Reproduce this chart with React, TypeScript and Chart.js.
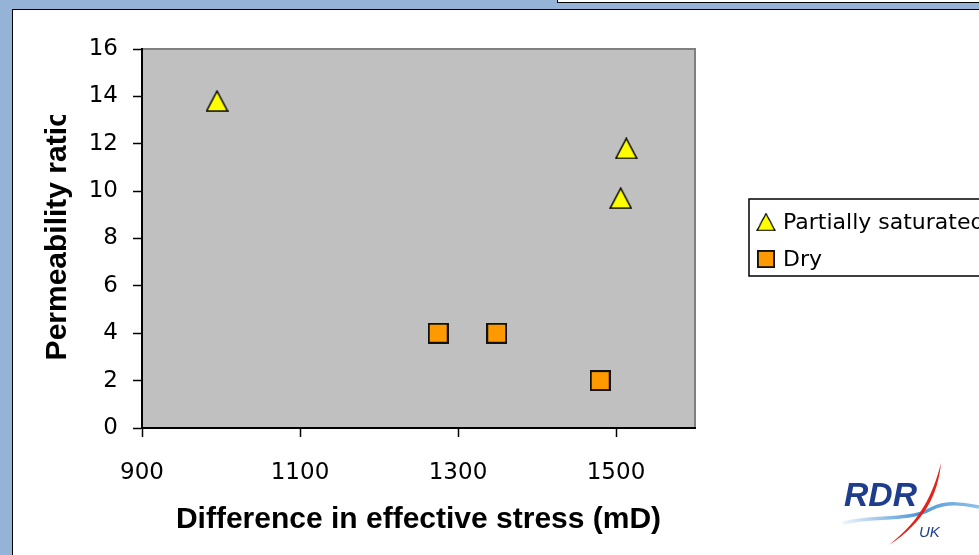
import React, { useEffect, useRef } from 'react';
import { Chart, registerables } from 'chart.js';

Chart.register(...registerables);

// Series and axis data
const seriesNames = ['Partially saturated', 'Dry'];
const saturatedStress = [995, 1513, 1506];
const saturatedRatio = [13.8, 11.8, 9.7];
const dryStress = [1275, 1349, 1480];
const dryRatio = [4.0, 4.0, 2.0];
const stressTicks = [900, 1100, 1300, 1500];
const ratioTicks = [0, 2, 4, 6, 8, 10, 12, 14, 16];
const xAxisTitle = 'Difference in effective stress (mD)';
const yAxisTitle = 'Permeability ratio';

const TICK_FONT = { family: '"DejaVu Sans", sans-serif', size: 23 };
const TITLE_FONT = 'bold 30px "Liberation Sans", Arial, sans-serif';

function makeTriangle(): HTMLCanvasElement {
  const c = document.createElement('canvas');
  c.width = 23;
  c.height = 22;
  const g = c.getContext('2d')!;
  g.beginPath();
  g.moveTo(11.5, 1);
  g.lineTo(22, 21);
  g.lineTo(1, 21);
  g.closePath();
  g.fillStyle = '#FFFF00';
  g.fill();
  g.lineWidth = 1.5;
  g.strokeStyle = '#000';
  g.stroke();
  return c;
}

function makeSquare(): HTMLCanvasElement {
  const c = document.createElement('canvas');
  c.width = 21;
  c.height = 21;
  const g = c.getContext('2d')!;
  g.fillStyle = '#FF9900';
  g.fillRect(1, 1, 19, 19);
  g.lineWidth = 2;
  g.strokeStyle = '#111';
  g.strokeRect(1, 1, 19, 19);
  return c;
}

// Grey plot area with a darker frame on its top and right edges
const plotBackground = {
  id: 'plotBackground',
  beforeDraw(chart: any) {
    const { ctx, chartArea: a } = chart;
    ctx.save();
    ctx.fillStyle = '#C0C0C0';
    ctx.fillRect(a.left, a.top, a.right - a.left, a.bottom - a.top);
    ctx.strokeStyle = '#808080';
    ctx.lineWidth = 2;
    ctx.beginPath();
    ctx.moveTo(a.left, a.top);
    ctx.lineTo(a.right, a.top);
    ctx.lineTo(a.right, a.bottom);
    ctx.stroke();
    ctx.restore();
  },
};

// Vertical axis title, cut off at its upper end
const clippedYTitle = {
  id: 'clippedYTitle',
  afterDraw(chart: any) {
    const { ctx, chartArea: a } = chart;
    const cy = (a.top + a.bottom) / 2 - 4;
    ctx.save();
    ctx.beginPath();
    ctx.rect(0, a.top + 66, a.left, chart.height);
    ctx.clip();
    ctx.translate(66, cy);
    ctx.rotate(-Math.PI / 2);
    ctx.font = TITLE_FONT;
    ctx.fillStyle = '#000';
    ctx.textAlign = 'center';
    ctx.textBaseline = 'alphabetic';
    ctx.fillText(yAxisTitle, 0, 0);
    ctx.restore();
  },
};

// Framed legend to the right of the plot
const boxedLegend = {
  id: 'boxedLegend',
  afterDraw(chart: any) {
    const { ctx, chartArea: a } = chart;
    const left = a.right + 54;
    const top = a.top + 150;
    const rowH = 37;
    const n = chart.data.datasets.length;
    const height = rowH * n + 3;
    ctx.save();
    ctx.fillStyle = '#fff';
    ctx.fillRect(left, top, 400, height);
    ctx.strokeStyle = '#000';
    ctx.lineWidth = 1.5;
    ctx.strokeRect(left, top, 400, height);
    chart.data.datasets.forEach((ds: any, i: number) => {
      const cy = top + 23 + i * rowH;
      const img = ds.pointStyle as HTMLCanvasElement;
      const s = 0.85;
      ctx.drawImage(img, left + 17 - (img.width * s) / 2, cy - (img.height * s) / 2, img.width * s, img.height * s);
      ctx.fillStyle = '#000';
      ctx.font = '22px "DejaVu Sans", sans-serif';
      ctx.textAlign = 'left';
      ctx.textBaseline = 'middle';
      ctx.fillText(ds.label, left + 34, cy + 1);
    });
    ctx.restore();
  },
};

function toPoints(xs: number[], ys: number[]) {
  return xs.map((x, i) => ({ x, y: ys[i] }));
}

function PermeabilityChart() {
  const ref = useRef<HTMLCanvasElement | null>(null);

  useEffect(() => {
    const canvas = ref.current;
    if (!canvas) return;
    const triangle = makeTriangle();
    const square = makeSquare();

    const chart = new Chart(canvas, {
      type: 'scatter',
      data: {
        datasets: [
          {
            label: seriesNames[0],
            data: toPoints(saturatedStress, saturatedRatio),
            pointStyle: triangle as any,
            pointRadius: 11,
          },
          {
            label: seriesNames[1],
            data: toPoints(dryStress, dryRatio),
            pointStyle: square as any,
            pointRadius: 10,
          },
        ],
      },
      options: {
        animation: false,
        responsive: false,
        maintainAspectRatio: false,
        events: [],
        layout: { padding: { left: 0, top: 49, right: 284, bottom: 0 } },
        plugins: {
          legend: { display: false },
          tooltip: { enabled: false },
        },
        scales: {
          x: {
            type: 'linear',
            position: 'bottom',
            min: 900,
            max: 1600,
            afterBuildTicks: (s: any) => {
              s.ticks = stressTicks.map((v) => ({ value: v }));
            },
            afterFit: (s: any) => {
              s.height = 127;
            },
            grid: {
              drawOnChartArea: false,
              drawTicks: true,
              tickLength: 9,
              tickColor: '#000',
              tickWidth: 1.5,
            },
            border: { color: '#000', width: 2 },
            ticks: {
              color: '#000',
              font: TICK_FONT,
              padding: 22,
              maxRotation: 0,
              autoSkip: false,
              callback: (v: any) => String(v),
            },
            title: {
              display: true,
              text: xAxisTitle,
              color: '#000',
              font: { family: '"Liberation Sans", Arial, sans-serif', size: 30, weight: 'bold' },
              padding: { top: 0, bottom: 17 },
            },
          },
          y: {
            type: 'linear',
            min: 0,
            max: 16,
            afterBuildTicks: (s: any) => {
              s.ticks = ratioTicks.map((v) => ({ value: v }));
            },
            afterFit: (s: any) => {
              s.width = 142;
            },
            grid: {
              drawOnChartArea: false,
              drawTicks: true,
              tickLength: 9,
              tickColor: '#000',
              tickWidth: 1.5,
            },
            border: { color: '#000', width: 2 },
            ticks: {
              color: '#000',
              font: TICK_FONT,
              padding: 15,
              autoSkip: false,
              callback: (v: any) => String(v),
            },
          },
        },
      },
      plugins: [plotBackground, clippedYTitle, boxedLegend],
    });

    return () => chart.destroy();
  }, []);

  return (
    <canvas
      ref={ref}
      width={979}
      height={555}
      style={{ position: 'absolute', left: 0, top: 0 }}
    />
  );
}

function Logo() {
  return (
    <svg
      style={{ position: 'absolute', left: 835, top: 460 }}
      width={144}
      height={90}
      viewBox="0 0 144 90"
    >
      <defs>
        <linearGradient id="rdrWave" x1="0" x2="1" y1="0" y2="0">
          <stop offset="0" stopColor="#eef5fb" />
          <stop offset="0.55" stopColor="#4f97d8" />
          <stop offset="1" stopColor="#8fc1ea" />
        </linearGradient>
      </defs>
      <path
        d="M8 63 C 38 55, 72 62, 96 49 C 112 41, 128 44, 144 47"
        stroke="url(#rdrWave)"
        strokeWidth={3.5}
        fill="none"
      />
      <text
        x={9}
        y={46}
        fontFamily='"Liberation Sans", Arial, sans-serif'
        fontWeight="bold"
        fontStyle="italic"
        fontSize={34}
        fill="#1E3D8C"
        textLength={73}
        lengthAdjust="spacingAndGlyphs"
      >
        RDR
      </text>
      <path d="M106 3 C 103 34, 90 62, 54 85 C 86 60, 98 34, 106 3 Z" fill="#E2231A" />
      <text
        x={84}
        y={77}
        fontFamily='"Liberation Sans", Arial, sans-serif'
        fontStyle="italic"
        fontSize={15}
        fill="#1E3D8C"
      >
        UK
      </text>
    </svg>
  );
}

export default function App() {
  return (
    <div
      style={{
        position: 'fixed',
        left: 0,
        top: 0,
        width: 979,
        height: 555,
        overflow: 'hidden',
        background: '#95B3D7',
      }}
    >
      <div
        style={{
          position: 'absolute',
          left: 12,
          top: 9,
          width: 1000,
          height: 600,
          background: '#fff',
          borderLeft: '1.5px solid #000',
          borderTop: '1.5px solid #000',
        }}
      />
      <div
        style={{
          position: 'absolute',
          left: 557,
          top: -10,
          width: 500,
          height: 10.5,
          background: '#fff',
          border: '1.5px solid #000',
        }}
      />
      <PermeabilityChart />
      <Logo />
    </div>
  );
}
